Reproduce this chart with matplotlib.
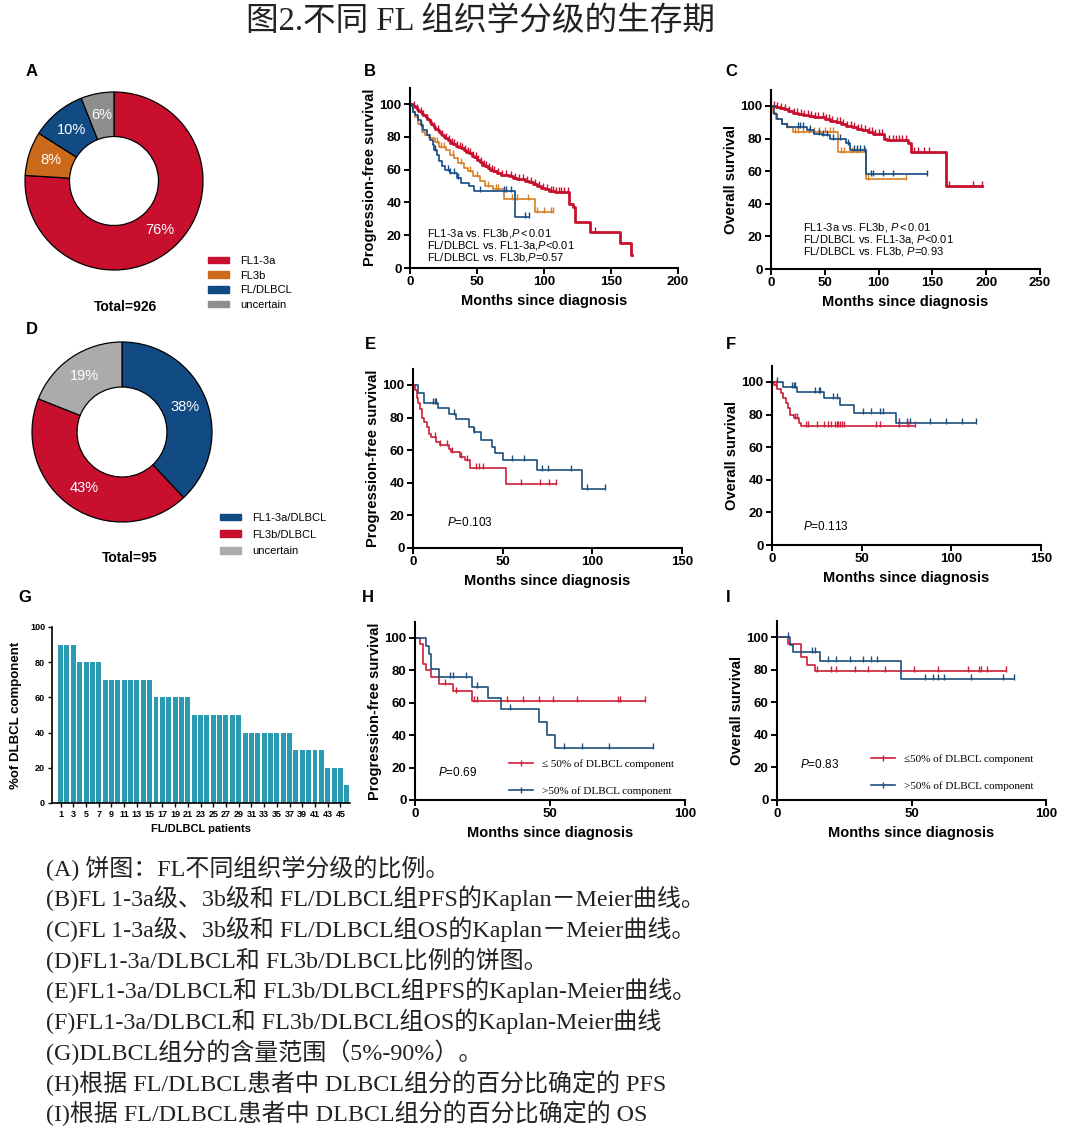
import numpy as np
import matplotlib
matplotlib.use("Agg")
import matplotlib.pyplot as plt
from matplotlib.lines import Line2D
from matplotlib.patches import Patch

plt.rcParams['font.family'] = ['Liberation Sans', 'DejaVu Sans']
plt.rcParams['mathtext.fontset'] = 'custom'
plt.rcParams['mathtext.rm'] = 'Liberation Sans'
plt.rcParams['mathtext.it'] = 'Liberation Sans:italic'
plt.rcParams['mathtext.bf'] = 'Liberation Sans:bold'

# ---------------- data ----------------
# Panel A
pieA_labels = ['FL1-3a', 'FL3b', 'FL/DLBCL', 'uncertain']
pieA_values = [76, 8, 10, 6]
# Panel D
pieD_labels = ['FL1-3a/DLBCL', 'FL3b/DLBCL', 'uncertain']
pieD_values = [38, 43, 19]

# Panel B (PFS)
B_fl13a_t = [1,2,3,4,5,6,7,8,9,10,11,12,13,14,15,16,17,18,19,20,21,22,23,24,25,26,28,30,32,34,36,38,40,42,44,46,48,50,52,54,56,58,60,62,65,68,71,74,77,80,83,86,89,92,95,98,101,104,108,119,122,123,134,157,165]
B_fl13a_s = [99.5,99,98.5,98,97,96,95.5,95,94,93.5,93,92,91,90,89,88,87,86,85,84.5,84,83,82,81,80,79,78,76.5,75.5,74.5,73.5,73,72,71,70,68.5,67.5,66,64.5,63,62,61,60,59,58,57,56.5,56,55,54.5,54,53,52.5,51,50,49,48,47,46.5,39,37,28,22,15,8]
B_fl13a_end = 166
B_fl13a_c = [3,5,8,10,13,16,18,21,24,27,29,31,33,35,37,39,41,43,45,47,49,51,53,55,57,59,61,63,66,69,72,75,78,81,84,87,90,93,96,99,102,105,107,109,111,113,115,118,138,165]
B_fl3b_t = [2,4,6,9,11,14,19,22,27,30,33,36,40,43,47,52,56,62,70,93]
B_fl3b_s = [95,92,88,83,81,79,77,74,72,69,67,64,61,59,56,53,50,48,42,34]
B_fl3b_end = 107
B_fl3b_c = [20,23,25,32,38,45,50,58,64,66,76,80,88,95,100,105,107]
B_dl_t = [2,4,6,8,10,13,15,17,18,20,22,24,26,30,35,38,44,48,78]
B_dl_s = [95,93,90,87,84,81,78,75,72,69,65,62,60,58,55,52,50,47,31]
B_dl_end = 89
B_dl_c = [8,19,28,30,33,36,52,70,72,75,86,89]

# Panel C (OS)
C_fl13a_t = [5,8,12,16,20,25,30,35,40,45,50,55,60,65,70,75,80,85,90,95,105,108,127,130,163]
C_fl13a_s = [99.5,99,98,97,96,95,94.5,94,93.5,93,92,91,90,89,88,87,86,85,84,83,80,79,77,72,51]
C_fl13a_end = 196
C_fl13a_c = [3,6,9,13,17,21,24,28,31,34,37,41,44,48,51,54,57,61,64,67,71,74,77,81,84,87,91,94,97,100,103,110,113,116,119,122,125,133,137,142,147,163,165,188,196]
C_fl3b_t = [2,5,10,15,20,62,88]
C_fl3b_s = [96,92,89,87,84,72,55]
C_fl3b_end = 125
C_fl3b_c = [15,22,25,30,35,40,45,50,55,58,65,68,75,80,87,90,125]
C_dl_t = [3,6,10,15,33,40,47,55,70,73,88]
C_dl_s = [95,92,89,87,85,83,82,80,77,73,58]
C_dl_end = 145
C_dl_c = [25,27,30,36,45,48,52,58,64,72,77,80,83,86,93,95,104,113,145]

# Panel E (PFS, FL1-3a/DLBCL vs FL3b/DLBCL)
E_a_t = [3,6,14,20,24,31,34,38,44,46,50,69,94]
E_a_s = [95,89,86,82,79,74.5,71,66,62,58,54,48,36]
E_a_end = 107
E_a_c = [11,12,13,23,34,55,62,72,75,88,97,107]
E_b_t = [1,2,3,4,5,6,8,9,10,13,15,20,21,26,29,32,52]
E_b_s = [97,92,89,85,80,77,74,70,68,65,63,61,59,56,54,49,39]
E_b_end = 80
E_b_c = [12,15,19,22,27,30,35,37,39,60,71,76,80]

# Panel F (OS)
F_a_t = [6,14,29,38,46,69]
F_a_s = [97,94,90,86,81,75]
F_a_end = 114
F_a_c = [3,11,12,13,24,26,27,34,36,51,55,60,62,71,75,77,88,97,106,114]
F_b_t = [1,3,5,6,8,9,10,12,15,16]
F_b_s = [98,96,93,90,87,84,80,78,75,73]
F_b_end = 80
F_b_c = [2,13,14,19,20,25,29,31,33,35,36,37,38,39,40,58,60,71,76,80]

# Panel G
G_patients = list(range(1, 47))
G_percent = [90]*3 + [80]*4 + [70]*8 + [60]*6 + [50]*8 + [40]*8 + [30]*5 + [20]*3 + [10]

# Panel H (PFS by DLBCL component)
H_lo_t = [2,3,4,6,9,14,21]
H_lo_s = [96,84,80,76,71.5,67,61]
H_lo_end = 85
H_lo_c = [11,15,22,23,34,40,46,51,60,75,76,85]
H_hi_t = [4,5,6,9,21,27,32,46,49,52]
H_hi_s = [95,90,81,76,70,63,56,48,40,32]
H_hi_end = 88
H_hi_c = [13,14,19,23,35,55,62,72,88]

# Panel I (OS by DLBCL component)
I_lo_t = [4,9,11,14]
I_lo_s = [96,88,83,79]
I_lo_end = 85
I_lo_c = [15,20,22,29,34,40,51,60,71,75,76,78,85]
I_hi_t = [5,6,16,46]
I_hi_s = [95,91,85,74.5]
I_hi_end = 88
I_hi_c = [4,13,14,19,22,27,32,35,37,55,58,60,62,72,84,88]

title = '图2.不同 FL 组织学分级的生存期'
captions = [
    '(A) 饼图：FL不同组织学分级的比例。',
    '(B)FL 1-3a级、3b级和 FL/DLBCL组PFS的Kaplan－Meier曲线。',
    '(C)FL 1-3a级、3b级和 FL/DLBCL组OS的Kaplan－Meier曲线。',
    '(D)FL1-3a/DLBCL和 FL3b/DLBCL比例的饼图。',
    '(E)FL1-3a/DLBCL和 FL3b/DLBCL组PFS的Kaplan-Meier曲线。',
    '(F)FL1-3a/DLBCL和 FL3b/DLBCL组OS的Kaplan-Meier曲线',
    '(G)DLBCL组分的含量范围（5%-90%）。',
    '(H)根据 FL/DLBCL患者中 DLBCL组分的百分比确定的 PFS',
    '(I)根据 FL/DLBCL患者中 DLBCL组分的百分比确定的 OS',
]

# ---------------- style ----------------
RED = '#C8102E'
ORANGE = '#D97F26'
BLUE = '#124A84'
GRAY_A = '#8E8E8E'
GRAY_D = '#ABABAB'
PIE_ORANGE = '#CC6A1C'
TEAL = '#2A9BB2'
KM_RED = '#CC1F38'
KM_BLUE = '#1D4F7D'
CJK = ['Liberation Serif', 'Noto Sans CJK SC']

W, H = 1080, 1140
fig = plt.figure(figsize=(W/100, H/100), dpi=100)
fig.patch.set_facecolor('white')


def add_ax(l, r, b, t):
    return fig.add_axes([l/W, 1 - b/H, (r-l)/W, (b-t)/H])


def km(ax, times, surv, end, cens, color, lw=1.2):
    x = np.r_[0, times, end]
    y = np.r_[100, surv, surv[-1]]
    ax.step(x, y, where='post', color=color, lw=lw)
    idx = np.searchsorted(x, cens, side='right') - 1
    ax.plot(cens, y[idx] + 1.2, ls='none', marker='|', ms=5, mew=1.0, color=color)


def style(ax, xmax, xstep, ylabel):
    ax.set_xlim(0, xmax)
    ax.set_ylim(0, 110)
    for s in ['top', 'right']:
        ax.spines[s].set_visible(False)
    for s in ['left', 'bottom']:
        ax.spines[s].set_linewidth(1.5)
    ax.set_yticks(range(0, 101, 20))
    ax.set_xticks(np.arange(0, xmax + 1, xstep))
    ax.tick_params(direction='out', length=4, width=1.4, labelsize=9.5, pad=2)
    for lab in ax.get_xticklabels() + ax.get_yticklabels():
        lab.set_fontweight('bold')
    ax.set_xlabel('Months since diagnosis', fontsize=10.5, fontweight='bold', labelpad=4)
    ax.set_ylabel(ylabel, fontsize=10.5, fontweight='bold', labelpad=2)
    ax.patch.set_alpha(0)


# ---------------- title ----------------
fig.text(480/W, 1 - 22/H, title, ha='center', va='center', fontsize=23.5,
         family=CJK, color='#222222')

# ---------------- panel labels ----------------
for lab, (x, y) in zip('ABCDEFGHI', [(32, 72), (370, 72), (731, 72), (32, 330), (370, 345),
                                     (731, 345), (25, 598), (368, 598), (728, 598)]):
    fig.text(x/W, 1 - y/H, lab, ha='center', va='center', fontsize=12, fontweight='bold')

# ---------------- pies ----------------
def pie(cx, cy, r, values, colors, start=90):
    ax = add_ax(cx - r, cx + r, cy + r, cy - r)
    wedges, texts, autotexts = ax.pie(values, colors=colors, startangle=start, counterclock=False,
                                      radius=1, autopct='%d%%', pctdistance=0.75,
                                      wedgeprops=dict(width=0.5, edgecolor='black', linewidth=0.9),
                                      textprops=dict(color='white', fontsize=10.5))
    ax.set_xlim(-1, 1)
    ax.set_ylim(-1, 1)
    for w in wedges:
        w.set_clip_on(False)
    return ax

pie(114, 181, 89, pieA_values, [RED, PIE_ORANGE, BLUE, GRAY_A])
pie(122, 432, 90, pieD_values, [BLUE, RED, GRAY_D])

fig.text(126/W, 1 - 307/H, 'Total=926', ha='center', va='center', fontsize=10, fontweight='bold')
fig.text(130/W, 1 - 558/H, 'Total=95', ha='center', va='center', fontsize=10, fontweight='bold')

fig.legend([Patch(color=c) for c in [RED, PIE_ORANGE, BLUE, GRAY_A]], pieA_labels,
           loc='upper left', bbox_to_anchor=(208/W, 1 - 256/H), frameon=False,
           fontsize=8, handlelength=1.9, handleheight=0.55, labelspacing=0.42,
           handletextpad=1.0, borderaxespad=0, borderpad=0)
fig.legend([Patch(color=c) for c in [BLUE, RED, GRAY_D]], pieD_labels,
           loc='upper left', bbox_to_anchor=(220/W, 1 - 513/H), frameon=False,
           fontsize=8, handlelength=1.9, handleheight=0.55, labelspacing=0.6,
           handletextpad=1.0, borderaxespad=0, borderpad=0)

# ---------------- B ----------------
axB = add_ax(410, 678, 268, 87.6)
km(axB, B_fl13a_t, B_fl13a_s, B_fl13a_end, B_fl13a_c, RED, lw=2.0)
km(axB, B_fl3b_t, B_fl3b_s, B_fl3b_end, B_fl3b_c, ORANGE)
km(axB, B_dl_t, B_dl_s, B_dl_end, B_dl_c, BLUE)
style(axB, 200, 50, 'Progression-free survival')
for i, s in enumerate(['FL1-3a vs. FL3b,$\\mathit{P{<}0.01}$',
                       'FL/DLBCL vs. FL1-3a,$\\mathit{P}$<0.01',
                       'FL/DLBCL vs. FL3b,$\\mathit{P}$=0.57']):
    fig.text(427/W, 1 - (234 + 12*i)/H, s, ha='left', va='center', fontsize=8)

# ---------------- C ----------------
axC = add_ax(771, 1040, 269, 89.7)
km(axC, C_fl13a_t, C_fl13a_s, C_fl13a_end, C_fl13a_c, RED, lw=2.0)
km(axC, C_fl3b_t, C_fl3b_s, C_fl3b_end, C_fl3b_c, ORANGE)
km(axC, C_dl_t, C_dl_s, C_dl_end, C_dl_c, BLUE)
style(axC, 250, 50, 'Overall survival')
for i, s in enumerate(['FL1-3a vs. FL3b, $\\mathit{P{<}0.01}$',
                       'FL/DLBCL vs. FL1-3a, $\\mathit{P}$<0.01',
                       'FL/DLBCL vs. FL3b, $\\mathit{P}$=0.93']):
    fig.text(803/W, 1 - (227 + 12.5*i)/H, s, ha='left', va='center', fontsize=8)

# ---------------- E ----------------
axE = add_ax(413, 682, 548, 368.7)
km(axE, E_a_t, E_a_s, E_a_end, E_a_c, KM_BLUE)
km(axE, E_b_t, E_b_s, E_b_end, E_b_c, KM_RED)
style(axE, 150, 50, 'Progression-free survival')
fig.text(447/W, 1 - 523/H, '$\\mathit{P}$=0.103', ha='left', va='center', fontsize=8.5)

# ---------------- F ----------------
axF = add_ax(772, 1041, 545, 365.7)
km(axF, F_a_t, F_a_s, F_a_end, F_a_c, KM_BLUE)
km(axF, F_b_t, F_b_s, F_b_end, F_b_c, KM_RED)
style(axF, 150, 50, 'Overall survival')
fig.text(803/W, 1 - 527/H, '$\\mathit{P}$=0.113', ha='left', va='center', fontsize=8.5)

# ---------------- G ----------------
axG = add_ax(52, 350, 803, 627)
axG.bar(G_patients, G_percent, width=0.78, color=TEAL)
axG.set_xlim(-0.35, 46.5)
axG.set_ylim(0, 100)
for s in ['top', 'right']:
    axG.spines[s].set_visible(False)
for s in ['left', 'bottom']:
    axG.spines[s].set_linewidth(1.2)
axG.set_xticks(range(1, 46, 2))
axG.set_yticks(range(0, 101, 20))
axG.tick_params(direction='out', length=3, width=1.0, labelsize=6.5, pad=2)
for lab in axG.get_xticklabels() + axG.get_yticklabels():
    lab.set_fontweight('bold')
axG.set_xlabel('FL/DLBCL patients', fontsize=8, fontweight='bold', labelpad=4)
axG.set_ylabel('%of DLBCL component', fontsize=9.5, fontweight='bold', labelpad=6)

# ---------------- H ----------------
axH = add_ax(415, 685, 800, 621.8)
km(axH, H_lo_t, H_lo_s, H_lo_end, H_lo_c, KM_RED)
km(axH, H_hi_t, H_hi_s, H_hi_end, H_hi_c, KM_BLUE)
style(axH, 100, 50, 'Progression-free survival')
fig.text(438/W, 1 - 773/H, '$\\mathit{P}$=0.69', ha='left', va='center', fontsize=8.5)
hl = [Line2D([0], [0], color=KM_RED, lw=1.2, marker='|', ms=5),
      Line2D([0], [0], color=KM_BLUE, lw=1.2, marker='|', ms=5)]
axH.legend(hl, ['≤ 50% of DLBCL component', '>50% of DLBCL component'],
           loc='upper left', bbox_to_anchor=(509/W, 1 - 759/H), bbox_transform=fig.transFigure,
           frameon=False, handlelength=2.2, handletextpad=0.8, labelspacing=1.55,
           borderaxespad=0, borderpad=0, prop=dict(family='Liberation Serif', size=8))

# ---------------- I ----------------
axI = add_ax(777, 1046, 800, 620.7)
km(axI, I_lo_t, I_lo_s, I_lo_end, I_lo_c, KM_RED)
km(axI, I_hi_t, I_hi_s, I_hi_end, I_hi_c, KM_BLUE)
style(axI, 100, 50, 'Overall survival')
fig.text(800/W, 1 - 765/H, '$\\mathit{P}$=0.83', ha='left', va='center', fontsize=8.5)
axI.legend(hl, ['≤50% of DLBCL component', '>50% of DLBCL component'],
           loc='upper left', bbox_to_anchor=(871/W, 1 - 754/H), bbox_transform=fig.transFigure,
           frameon=False, handlelength=2.2, handletextpad=0.8, labelspacing=1.55,
           borderaxespad=0, borderpad=0, prop=dict(family='Liberation Serif', size=8))

# ---------------- captions ----------------
cap_y = [868, 898, 929, 960, 990, 1021, 1052, 1083, 1113]
for s, y in zip(captions, cap_y):
    fig.text(46/W, 1 - y/H, s, ha='left', va='center', fontsize=17.3, family=CJK, color='#222222')

fig.savefig('out.png', dpi=100, facecolor='white')
